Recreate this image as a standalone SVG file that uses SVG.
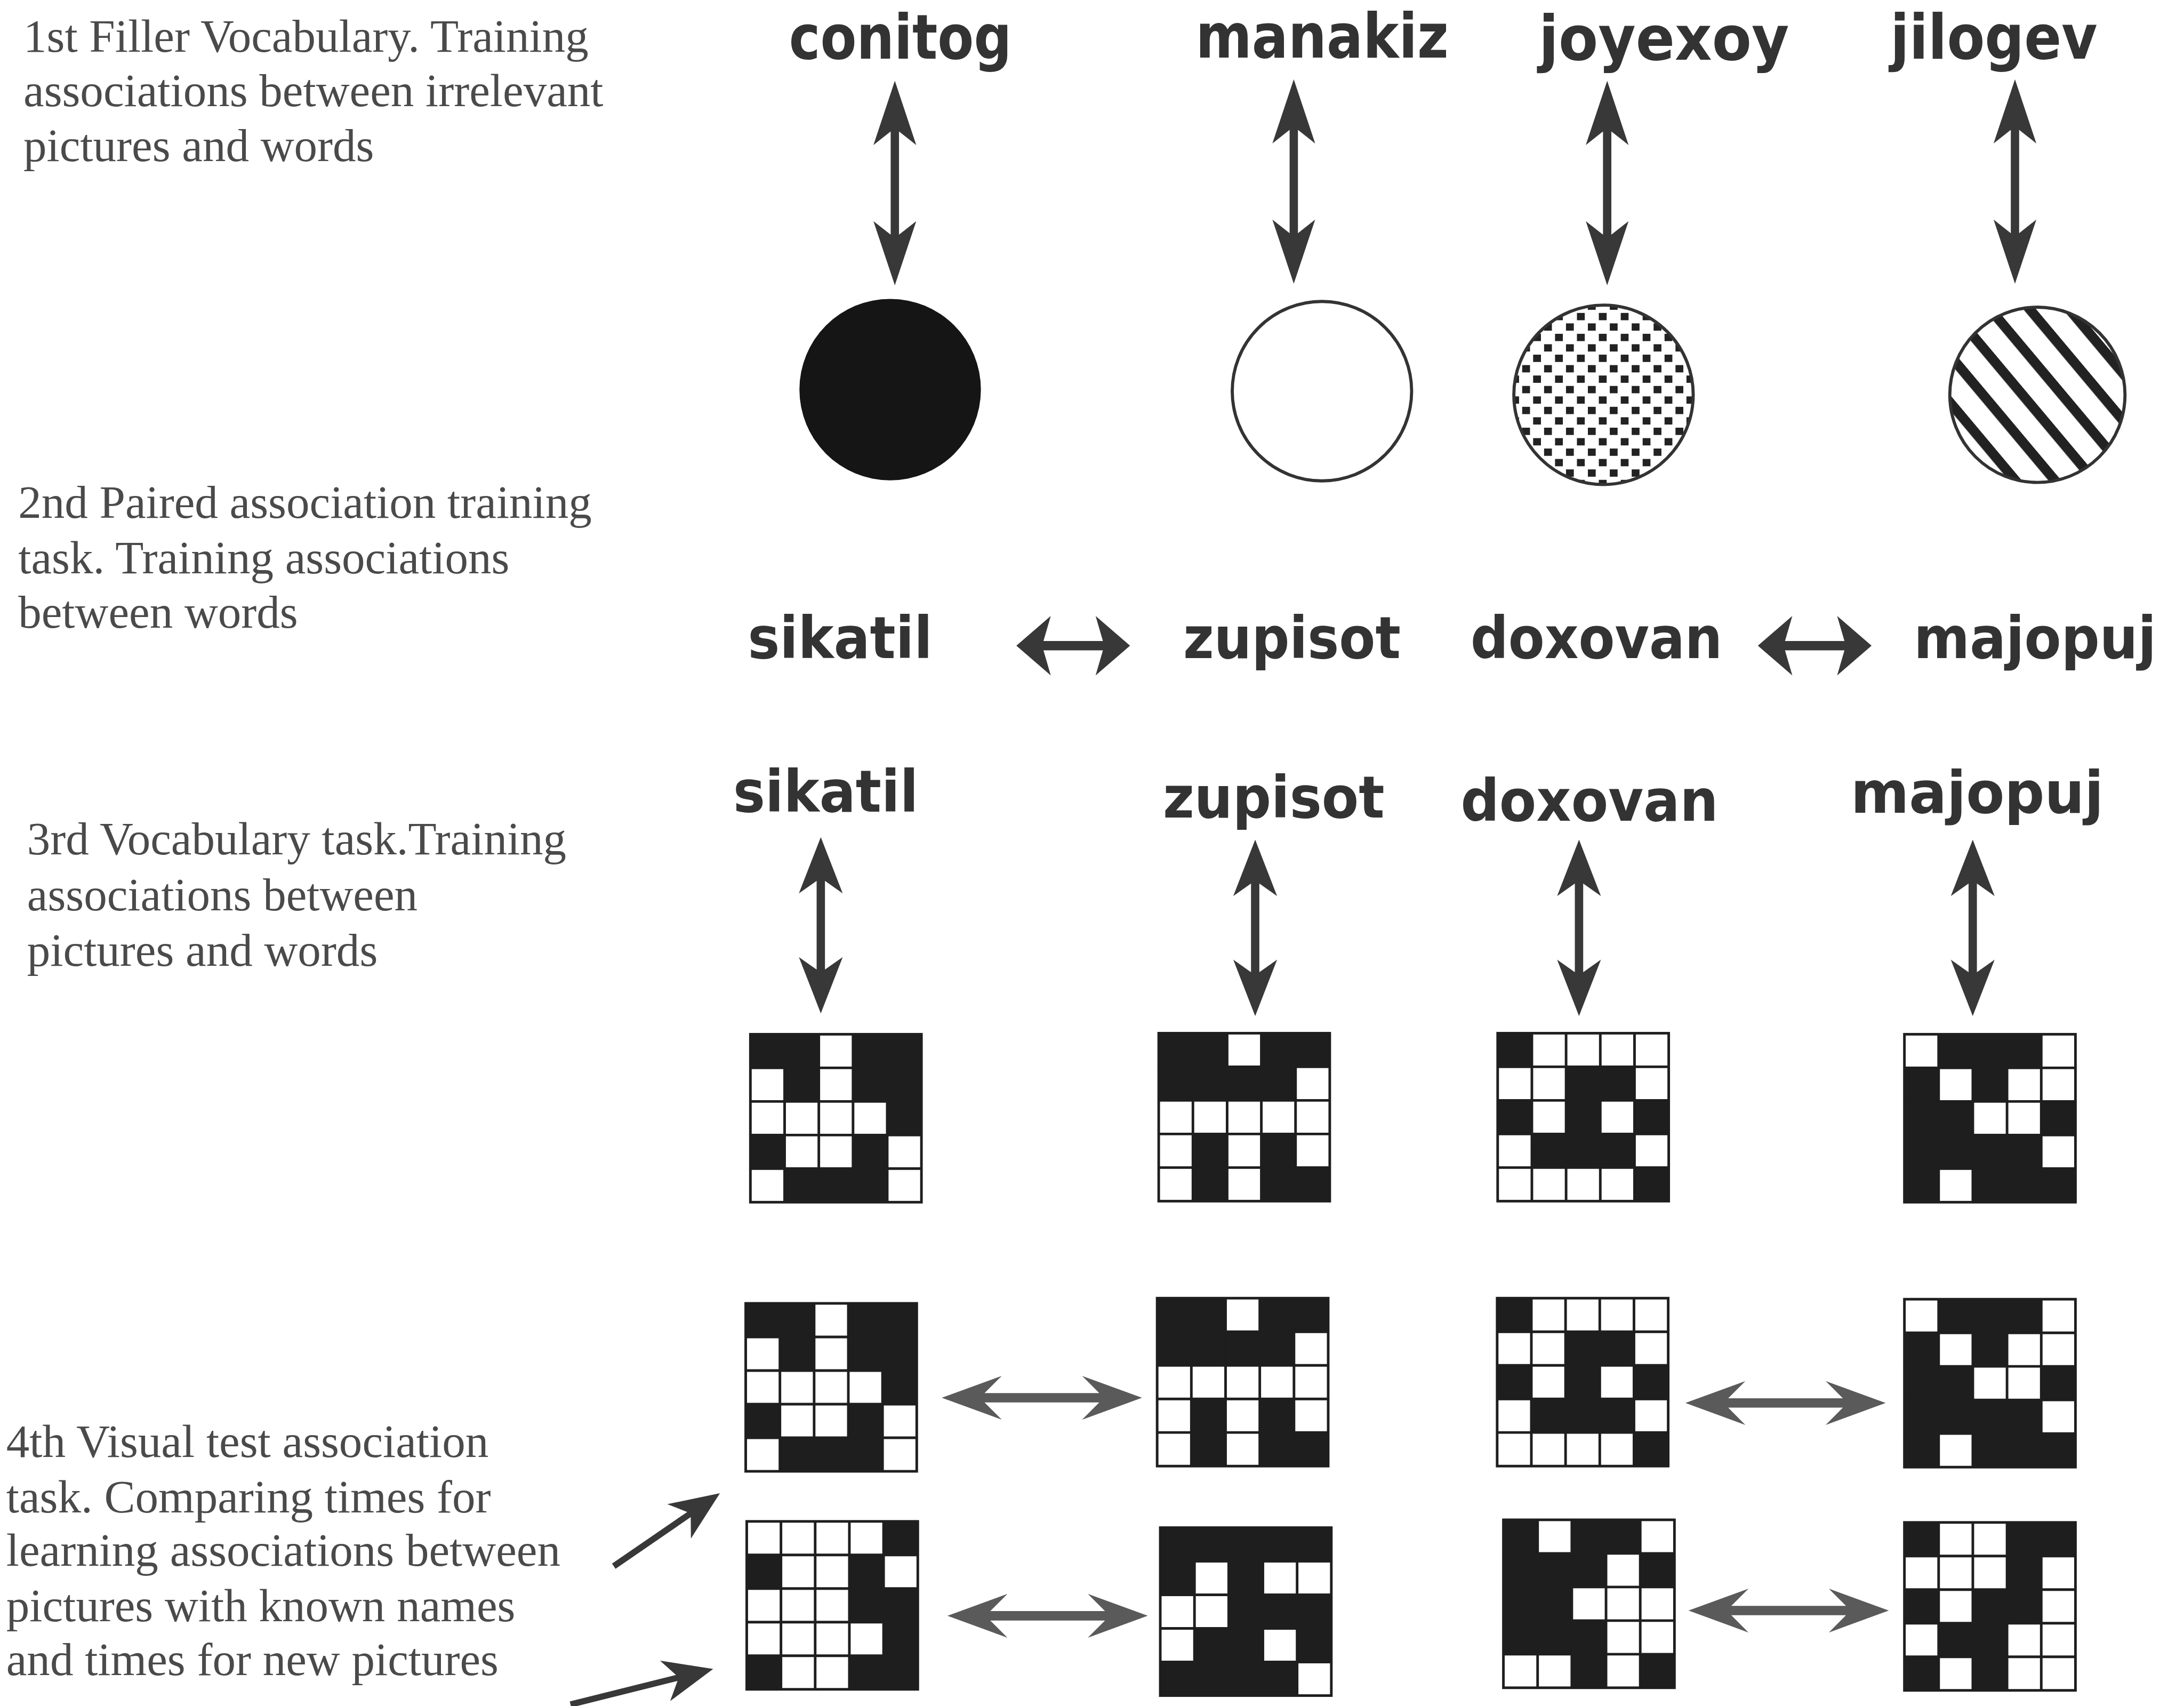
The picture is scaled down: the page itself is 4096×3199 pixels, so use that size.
<svg xmlns="http://www.w3.org/2000/svg" xmlns:xlink="http://www.w3.org/1999/xlink" width="4096" height="3199" viewBox="0 0 4096 3199">
<style>
.lbl{font-family:"Liberation Serif","Times New Roman",serif;font-size:89px;fill:#4a4a4a}
.word{font-family:"DejaVu Sans","Liberation Sans",sans-serif;font-weight:bold;fill:#333}
.w1{font-size:118px}
.w2{font-size:112px}
.bg{fill:#fff}
.blk{fill:#1e1e1e}
.gl{fill:none;stroke:#1e1e1e;stroke-width:5}
.arr{fill:#383838}
.garr{fill:#5a5a5a}
.circ{stroke:#333;stroke-width:6}
</style>
<defs>
<pattern id="dots" patternUnits="userSpaceOnUse" width="42" height="40">
<rect width="42" height="40" fill="#fff"/>
<rect x="0" y="0" width="15" height="14" fill="#222"/>
<rect x="21" y="20" width="15" height="14" fill="#222"/>
</pattern>
<pattern id="hatch" patternUnits="userSpaceOnUse" width="58" height="58" patternTransform="rotate(50)">
<rect width="58" height="58" fill="#fff"/>
<rect x="0" y="0" width="58" height="19" fill="#222"/>
</pattern>
<rect id="c" width="66" height="65" class="blk"/>
<g id="gl" class="gl">
<rect x="0" y="0" width="328" height="322"/>
<path d="M65.6 0V322M131.2 0V322M196.8 0V322M262.4 0V322M0 64.4H328M0 128.8H328M0 193.2H328M0 257.6H328"/>
</g>
<path id="va1" d="M0 0L41 123L8 97L8 295L41 269L0 392L-41 269L-8 295L-8 97L-41 123Z"/>
<path id="va3" d="M0 0L42 108L8 84L8 254L42 230L0 338L-42 230L-8 254L-8 84L-42 108Z"/>
<path id="ha2" d="M0 0L66 -57L52 -9L166 -9L152 -57L218 0L152 57L166 9L52 9L66 57Z"/>
<path id="ha4" d="M0 0L115 -42L82 -9L302 -9L269 -42L384 0L269 42L302 9L82 9L115 42Z"/>
<path id="da1" d="M0 -6L175 -6L152 -40L247 0L152 40L175 6L0 6Z"/>
<path id="da2" d="M0 -6L210 -6L187 -40L282 0L187 40L210 6L0 6Z"/>
</defs>
<rect width="4096" height="3199" fill="#fff"/>
<g transform="scale(0.978)">
<g id="labels">
<text class="lbl" x="45" y="99">1st Filler Vocabulary. Training</text>
<text class="lbl" x="45" y="204">associations between irrelevant</text>
<text class="lbl" x="45" y="309">pictures and words</text>
<text class="lbl" x="35" y="993">2nd Paired association training</text>
<text class="lbl" x="35" y="1099">task. Training associations</text>
<text class="lbl" x="35" y="1203">between words</text>
<text class="lbl" x="52" y="1638">3rd Vocabulary task.Training</text>
<text class="lbl" x="52" y="1745">associations between</text>
<text class="lbl" x="52" y="1852">pictures and words</text>
<text class="lbl" x="12" y="2793">4th Visual test association</text>
<text class="lbl" x="12" y="2900">task. Comparing times for</text>
<text class="lbl" x="12" y="3002">learning associations between</text>
<text class="lbl" x="12" y="3108">pictures with known names</text>
<text class="lbl" x="12" y="3212">and times for new pictures</text>
</g>
<g id="words-row1">
<text id="w-conitog" class="word w1" x="1513" y="113" textLength="427" lengthAdjust="spacingAndGlyphs">conitog</text>
<text id="w-manakiz" class="word w1" x="2293" y="110" textLength="485" lengthAdjust="spacingAndGlyphs">manakiz</text>
<text id="w-joyexoy" class="word w1" x="2951" y="115" textLength="480" lengthAdjust="spacingAndGlyphs">joyexoy</text>
<text id="w-jilogev" class="word w1" x="3625" y="112" textLength="397" lengthAdjust="spacingAndGlyphs">jilogev</text>
</g>
<g id="shapes-row1">
<circle id="pic-black" cx="1707" cy="747" r="174" fill="#151515"/>
<circle id="pic-white" cx="2535" cy="750" r="172" fill="#fff" class="circ"/>
<circle id="pic-dots" cx="3075" cy="757" r="172" fill="url(#dots)" class="circ" stroke-width="7"/>
<circle id="pic-hatch" cx="3907" cy="757" r="168" fill="url(#hatch)" class="circ"/>
</g>
<g id="words-row2">
<text id="w2-sikatil" class="word w2" x="1434" y="1262" textLength="354" lengthAdjust="spacingAndGlyphs">sikatil</text>
<text id="w2-zupisot" class="word w2" x="2269" y="1262" textLength="417" lengthAdjust="spacingAndGlyphs">zupisot</text>
<text id="w2-doxovan" class="word w2" x="2820" y="1262" textLength="483" lengthAdjust="spacingAndGlyphs">doxovan</text>
<text id="w2-majopuj" class="word w2" x="3670" y="1262" textLength="465" lengthAdjust="spacingAndGlyphs">majopuj</text>
</g>
<g id="words-row3">
<text id="w3-sikatil" class="word w2" x="1406" y="1556" textLength="355" lengthAdjust="spacingAndGlyphs">sikatil</text>
<text id="w3-zupisot" class="word w2" x="2230" y="1567" textLength="425" lengthAdjust="spacingAndGlyphs">zupisot</text>
<text id="w3-doxovan" class="word w2" x="2801" y="1574" textLength="494" lengthAdjust="spacingAndGlyphs">doxovan</text>
<text id="w3-majopuj" class="word w2" x="3549" y="1558" textLength="485" lengthAdjust="spacingAndGlyphs">majopuj</text>
</g>
<g id="grid-3-1" transform="translate(1439,1983)">
<rect class="bg" width="328" height="322"/>
<use href="#c" x="0" y="0"/><use href="#c" x="65.6" y="0"/><use href="#c" x="196.8" y="0"/><use href="#c" x="262.4" y="0"/>
<use href="#c" x="65.6" y="64.4"/><use href="#c" x="196.8" y="64.4"/><use href="#c" x="262.4" y="64.4"/>
<use href="#c" x="262.4" y="128.8"/>
<use href="#c" x="0" y="193.2"/><use href="#c" x="196.8" y="193.2"/>
<use href="#c" x="65.6" y="257.6"/><use href="#c" x="131.2" y="257.6"/><use href="#c" x="196.8" y="257.6"/>
<use href="#gl"/>
</g>
<g id="grid-3-2" transform="translate(2222,1981)">
<rect class="bg" width="328" height="322"/>
<use href="#c" x="0" y="0"/><use href="#c" x="65.6" y="0"/><use href="#c" x="196.8" y="0"/><use href="#c" x="262.4" y="0"/>
<use href="#c" x="0" y="64.4"/><use href="#c" x="65.6" y="64.4"/><use href="#c" x="131.2" y="64.4"/><use href="#c" x="196.8" y="64.4"/>
<use href="#c" x="65.6" y="193.2"/><use href="#c" x="196.8" y="193.2"/>
<use href="#c" x="65.6" y="257.6"/><use href="#c" x="196.8" y="257.6"/><use href="#c" x="262.4" y="257.6"/>
<use href="#gl"/>
</g>
<g id="grid-3-3" transform="translate(2872,1981)">
<rect class="bg" width="328" height="322"/>
<use href="#c" x="0" y="0"/>
<use href="#c" x="131.2" y="64.4"/><use href="#c" x="196.8" y="64.4"/>
<use href="#c" x="0" y="128.8"/><use href="#c" x="131.2" y="128.8"/><use href="#c" x="262.4" y="128.8"/>
<use href="#c" x="65.6" y="193.2"/><use href="#c" x="131.2" y="193.2"/><use href="#c" x="196.8" y="193.2"/>
<use href="#c" x="262.4" y="257.6"/>
<use href="#gl"/>
</g>
<g id="grid-3-4" transform="translate(3652,1983)">
<rect class="bg" width="328" height="322"/>
<use href="#c" x="65.6" y="0"/><use href="#c" x="131.2" y="0"/><use href="#c" x="196.8" y="0"/>
<use href="#c" x="0" y="64.4"/><use href="#c" x="131.2" y="64.4"/>
<use href="#c" x="0" y="128.8"/><use href="#c" x="65.6" y="128.8"/><use href="#c" x="262.4" y="128.8"/>
<use href="#c" x="0" y="193.2"/><use href="#c" x="65.6" y="193.2"/><use href="#c" x="131.2" y="193.2"/><use href="#c" x="196.8" y="193.2"/>
<use href="#c" x="0" y="257.6"/><use href="#c" x="131.2" y="257.6"/><use href="#c" x="196.8" y="257.6"/><use href="#c" x="262.4" y="257.6"/>
<use href="#gl"/>
</g>
<g id="grid-4a-1" transform="translate(1430,2499)">
<rect class="bg" width="328" height="322"/>
<use href="#c" x="0" y="0"/><use href="#c" x="65.6" y="0"/><use href="#c" x="196.8" y="0"/><use href="#c" x="262.4" y="0"/>
<use href="#c" x="65.6" y="64.4"/><use href="#c" x="196.8" y="64.4"/><use href="#c" x="262.4" y="64.4"/>
<use href="#c" x="262.4" y="128.8"/>
<use href="#c" x="0" y="193.2"/><use href="#c" x="196.8" y="193.2"/>
<use href="#c" x="65.6" y="257.6"/><use href="#c" x="131.2" y="257.6"/><use href="#c" x="196.8" y="257.6"/>
<use href="#gl"/>
</g>
<g id="grid-4a-2" transform="translate(2219,2489)">
<rect class="bg" width="328" height="322"/>
<use href="#c" x="0" y="0"/><use href="#c" x="65.6" y="0"/><use href="#c" x="196.8" y="0"/><use href="#c" x="262.4" y="0"/>
<use href="#c" x="0" y="64.4"/><use href="#c" x="65.6" y="64.4"/><use href="#c" x="131.2" y="64.4"/><use href="#c" x="196.8" y="64.4"/>
<use href="#c" x="65.6" y="193.2"/><use href="#c" x="196.8" y="193.2"/>
<use href="#c" x="65.6" y="257.6"/><use href="#c" x="196.8" y="257.6"/><use href="#c" x="262.4" y="257.6"/>
<use href="#gl"/>
</g>
<g id="grid-4a-3" transform="translate(2871,2489)">
<rect class="bg" width="328" height="322"/>
<use href="#c" x="0" y="0"/>
<use href="#c" x="131.2" y="64.4"/><use href="#c" x="196.8" y="64.4"/>
<use href="#c" x="0" y="128.8"/><use href="#c" x="131.2" y="128.8"/><use href="#c" x="262.4" y="128.8"/>
<use href="#c" x="65.6" y="193.2"/><use href="#c" x="131.2" y="193.2"/><use href="#c" x="196.8" y="193.2"/>
<use href="#c" x="262.4" y="257.6"/>
<use href="#gl"/>
</g>
<g id="grid-4a-4" transform="translate(3652,2491)">
<rect class="bg" width="328" height="322"/>
<use href="#c" x="65.6" y="0"/><use href="#c" x="131.2" y="0"/><use href="#c" x="196.8" y="0"/>
<use href="#c" x="0" y="64.4"/><use href="#c" x="131.2" y="64.4"/>
<use href="#c" x="0" y="128.8"/><use href="#c" x="65.6" y="128.8"/><use href="#c" x="262.4" y="128.8"/>
<use href="#c" x="0" y="193.2"/><use href="#c" x="65.6" y="193.2"/><use href="#c" x="131.2" y="193.2"/><use href="#c" x="196.8" y="193.2"/>
<use href="#c" x="0" y="257.6"/><use href="#c" x="131.2" y="257.6"/><use href="#c" x="196.8" y="257.6"/><use href="#c" x="262.4" y="257.6"/>
<use href="#gl"/>
</g>
<g id="grid-4b-1" transform="translate(1432,2917)">
<rect class="bg" width="328" height="322"/>
<use href="#c" x="262.4" y="0"/>
<use href="#c" x="0" y="64.4"/><use href="#c" x="196.8" y="64.4"/>
<use href="#c" x="196.8" y="128.8"/><use href="#c" x="262.4" y="128.8"/>
<use href="#c" x="262.4" y="193.2"/>
<use href="#c" x="0" y="257.6"/><use href="#c" x="196.8" y="257.6"/><use href="#c" x="262.4" y="257.6"/>
<use href="#gl"/>
</g>
<g id="grid-4b-2" transform="translate(2225,2929)">
<rect class="bg" width="328" height="322"/>
<use href="#c" x="0" y="0"/><use href="#c" x="65.6" y="0"/><use href="#c" x="131.2" y="0"/><use href="#c" x="196.8" y="0"/><use href="#c" x="262.4" y="0"/>
<use href="#c" x="0" y="64.4"/><use href="#c" x="131.2" y="64.4"/>
<use href="#c" x="131.2" y="128.8"/><use href="#c" x="196.8" y="128.8"/><use href="#c" x="262.4" y="128.8"/>
<use href="#c" x="65.6" y="193.2"/><use href="#c" x="131.2" y="193.2"/><use href="#c" x="262.4" y="193.2"/>
<use href="#c" x="0" y="257.6"/><use href="#c" x="65.6" y="257.6"/><use href="#c" x="131.2" y="257.6"/><use href="#c" x="196.8" y="257.6"/>
<use href="#gl"/>
</g>
<g id="grid-4b-3" transform="translate(2883,2914)">
<rect class="bg" width="328" height="322"/>
<use href="#c" x="0" y="0"/><use href="#c" x="131.2" y="0"/><use href="#c" x="196.8" y="0"/>
<use href="#c" x="0" y="64.4"/><use href="#c" x="65.6" y="64.4"/><use href="#c" x="131.2" y="64.4"/><use href="#c" x="262.4" y="64.4"/>
<use href="#c" x="0" y="128.8"/><use href="#c" x="65.6" y="128.8"/>
<use href="#c" x="0" y="193.2"/><use href="#c" x="65.6" y="193.2"/><use href="#c" x="131.2" y="193.2"/>
<use href="#c" x="131.2" y="257.6"/><use href="#c" x="262.4" y="257.6"/>
<use href="#gl"/>
</g>
<g id="grid-4b-4" transform="translate(3652,2919)">
<rect class="bg" width="328" height="322"/>
<use href="#c" x="0" y="0"/><use href="#c" x="196.8" y="0"/><use href="#c" x="262.4" y="0"/>
<use href="#c" x="196.8" y="64.4"/>
<use href="#c" x="0" y="128.8"/><use href="#c" x="131.2" y="128.8"/><use href="#c" x="196.8" y="128.8"/>
<use href="#c" x="65.6" y="193.2"/><use href="#c" x="131.2" y="193.2"/>
<use href="#c" x="0" y="257.6"/><use href="#c" x="131.2" y="257.6"/>
<use href="#gl"/>
</g>
<g id="connectors">
<use href="#va1" class="arr" transform="translate(1716,155)"/>
<use href="#va1" class="arr" transform="translate(2481,152)"/>
<use href="#va1" class="arr" transform="translate(3082,155)"/>
<use href="#va1" class="arr" transform="translate(3864,152)"/>
<use href="#ha2" class="arr" transform="translate(1949,1238)"/>
<use href="#ha2" class="arr" transform="translate(3371,1238)"/>
<use href="#va3" class="arr" transform="translate(1574,1605)"/>
<use href="#va3" class="arr" transform="translate(2407,1610)"/>
<use href="#va3" class="arr" transform="translate(3028,1610)"/>
<use href="#va3" class="arr" transform="translate(3783,1610)"/>
<use href="#ha4" class="garr" transform="translate(1806,2680)"/>
<use href="#ha4" class="garr" transform="translate(3232,2690)"/>
<use href="#ha4" class="garr" transform="translate(1817,3098)"/>
<use href="#ha4" class="garr" transform="translate(3238,3088)"/>
<use href="#da1" class="arr" transform="translate(1177,3003) rotate(-34.5)"/>
<use href="#da2" class="arr" transform="translate(1094,3268) rotate(-14)"/>
</g>
</g>
</svg>
